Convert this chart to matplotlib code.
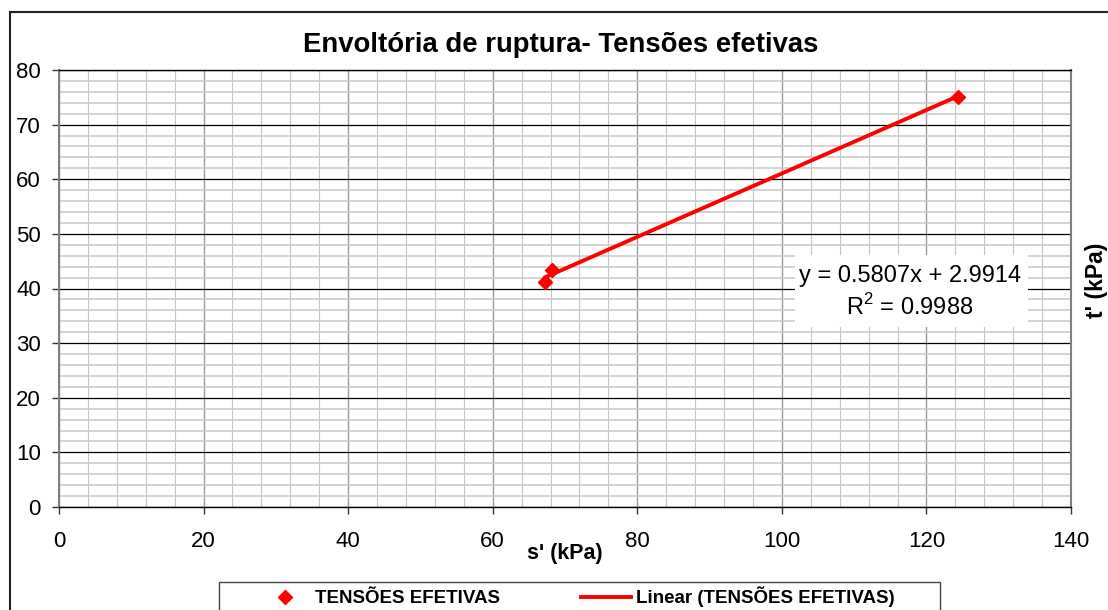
import numpy as np
import matplotlib
matplotlib.use('Agg')
import matplotlib.pyplot as plt
from matplotlib.patches import Rectangle
from matplotlib.ticker import MultipleLocator

plt.rcParams['font.family'] = ['Liberation Sans', 'DejaVu Sans']
plt.rcParams['mathtext.fontset'] = 'custom'
plt.rcParams['mathtext.rm'] = 'Liberation Sans'

# Effective stress points (s', t') at failure
s_eff = [67.3, 68.2, 124.4]
t_eff = [41.2, 43.3, 75.0]

# Linear trendline from the fitted equation
slope = 0.5807
intercept = 2.9914
r_squared = 0.9988

title = 'Envoltória de ruptura- Tensões efetivas'
series_name = 'TENSÕES EFETIVAS'

W, H = 1108, 610
fig = plt.figure(figsize=(W / 100, H / 100), dpi=100)
ax = fig.add_axes([59 / W, 1 - 507 / H, (1071 - 59) / W, (507 - 70) / H])

# Axis ranges and grid
ax.set_xlim(0, 140)
ax.set_ylim(0, 80)
ax.xaxis.set_major_locator(MultipleLocator(20))
ax.xaxis.set_minor_locator(MultipleLocator(4))
ax.yaxis.set_major_locator(MultipleLocator(10))
ax.yaxis.set_minor_locator(MultipleLocator(2))

ax.grid(axis='x', which='minor', color='#c4c4c4', lw=0.8, zorder=0)
ax.grid(axis='y', which='minor', color='#c8c8c8', lw=1.1, zorder=0)
ax.grid(axis='x', which='major', color='#9a9a9a', lw=1.0, zorder=0.5)
ax.grid(axis='y', which='major', color='#000000', lw=0.9, zorder=0.5)
ax.set_axisbelow(True)

ax.tick_params(axis='both', which='minor', length=0)
ax.tick_params(axis='both', which='major', direction='out', length=5,
               width=1.0, color='#333333', labelsize=16)
ax.tick_params(axis='x', pad=12)
ax.tick_params(axis='y', pad=8)

for side in ['left', 'right']:
    ax.spines[side].set_color('#808080')
    ax.spines[side].set_linewidth(1.5)
for side in ['top', 'bottom']:
    ax.spines[side].set_color('#000000')
    ax.spines[side].set_linewidth(1.0)

# Data and trendline
x_fit = np.array([min(s_eff), max(s_eff)])
y_fit = slope * x_fit + intercept
ax.plot(s_eff, t_eff, 'D', color='#ff0000', ms=7.5, zorder=3,
        label=series_name)
ax.plot(x_fit, y_fit, '-', color='#ff0000', lw=2.8, zorder=4,
        label='Linear (' + series_name + ')')

# Equation box
ax.add_patch(Rectangle((0.7273, 0.4119), 0.2302, 0.1648, transform=ax.transAxes,
                       facecolor='white', edgecolor='none', zorder=5))
ax.text(0.8405, 0.528, f'y = {slope:.4f}x + {intercept:.4f}', transform=ax.transAxes,
        ha='center', va='center', fontsize=17, zorder=6)
ax.text(0.8405, 0.458, f'R$^2$ = {r_squared:.4f}', transform=ax.transAxes,
        ha='center', va='center', fontsize=17, zorder=6)

# Titles and axis labels
fig.text(561 / W, 1 - 45 / H, title, ha='center', va='center',
         fontsize=19.8, fontweight='bold')
fig.text(565 / W, 1 - 553 / H, "s' (kPa)", ha='center', va='center',
         fontsize=15.5, fontweight='bold')
fig.text(1097 / W, 1 - 280 / H, "t' (kPa)", ha='center', va='center',
         rotation=90, fontsize=16.5, fontweight='bold')

# Chart frame and legend frame
fig.patches.append(Rectangle((10 / W, -0.1), 1.2, 1 - 12 / H + 0.1,
                             transform=fig.transFigure, fill=False,
                             edgecolor='#222222', lw=1.5))
fig.patches.append(Rectangle((219 / W, -0.1), (940 - 219) / W, 1 - 582 / H + 0.1,
                             transform=fig.transFigure, fill=False,
                             edgecolor='#444444', lw=1.0))

handles, labels = ax.get_legend_handles_labels()
fig.legend(handles, labels, loc='center left', bbox_to_anchor=(260 / W, 1 - 597 / H),
           ncol=2, frameon=False, borderpad=0, borderaxespad=0,
           handlelength=2.67, handletextpad=0.28, columnspacing=4.3,
           prop={'weight': 'bold', 'size': 13.5})

fig.savefig('out.png', dpi=100)
